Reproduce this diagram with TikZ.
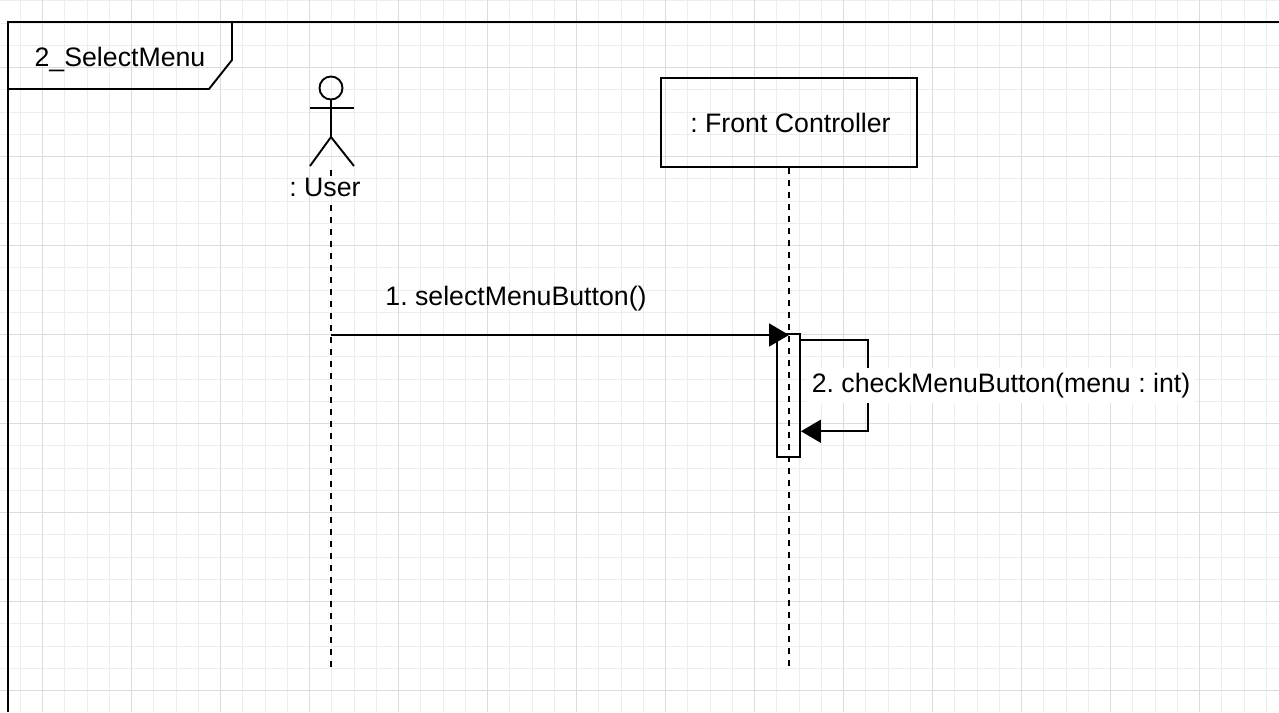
\documentclass[tikz,border=0pt]{standalone}
\usepackage{fontspec}
\setmainfont{Liberation Sans}
\usepackage{xcolor}
\usepackage{tikz}
\usetikzlibrary{positioning,arrows.meta,calc}
\definecolor{ink}{HTML}{000000}
\definecolor{gridmajor}{HTML}{DCDCDC}
\definecolor{gridminor}{HTML}{EDEDED}
\frenchspacing

\begin{document}
\begin{tikzpicture}[x=1pt, y=-1pt,
    every node/.style={font=\fontsize{26.7}{32}\selectfont, text=ink},
    outline/.style={draw=ink, line width=1.9pt},
    lifeline/.style={draw=ink, line width=2.2pt, dash pattern=on 6pt off 6pt},
    msg/.style={draw=ink, line width=1.9pt, -{Triangle[length=20pt,width=23pt]}},
    lifebox/.style={outline, minimum width=256pt, minimum height=89pt, inner sep=0pt},
    actbox/.style={outline, minimum width=23pt, minimum height=123pt, inner sep=0pt}]
  \useasboundingbox (0,0) rectangle (1279,712);
  \fill[white] (0,0) rectangle (1279,712);
  \foreach \k in {-1,...,55}
    \draw[gridminor, line width=1pt] ({42.5+22.25*\k},0) -- ({42.5+22.25*\k},712);
  \foreach \k in {-3,...,28}
    \draw[gridminor, line width=1pt] (0,{67.5+22.25*\k}) -- (1279,{67.5+22.25*\k});
  \foreach \k in {0,...,13}
    \draw[gridmajor, line width=1pt] ({42.5+89*\k},0) -- ({42.5+89*\k},712);
  \foreach \k in {0,...,7}
    \draw[gridmajor, line width=1pt] (0,{67.5+89*\k}) -- (1279,{67.5+89*\k});

  % frame and its title tab
  \draw[outline, line width=2.2pt] (8,712) -- (8,22) -- (1279,22);
  \draw[outline] (232,22) -- (232,60) -- (209,89) -- (8,89);
  \node[anchor=base] (title) at (120,66) {2\_SelectMenu};

  % actor
  \coordinate (head) at (331,88);
  \draw[outline] (head) circle (11.5);
  \draw[outline] (331,99.5) -- (331,137) -- (310,166);
  \draw[outline] (331,137) -- (354,166);
  \draw[outline] (310,108) -- (354,108);
  \node[anchor=base] (user) at (325,196.5) {: User};
  \coordinate (userend) at (331,668);
  \draw[lifeline] (331,170) -- (331,178);
  \draw[lifeline] (331,205) -- (userend);

  % front controller
  \node[lifebox] (fc) at (789,122.5) {};
  \node[anchor=base] (fclabel) at (790.5,132.5) {: Front Controller};
  \coordinate (fcend) at (789,668);
  \draw[lifeline] (fc.south) -- (fcend);
  \node[actbox] (act) at (788.5,395.8) {};

  % messages
  \coordinate (m1) at (331,335);
  \draw[msg] (m1) -- (fc |- m1);
  \node[anchor=base] (m1label) at (516,305) {1. selectMenuButton()};
  \draw[msg] ([yshift=-7pt]act.north east) -- ++(67,0) |- ([yshift=27pt]act.south east);
  \node[anchor=base, fill=white, inner sep=5pt] (m2label) at (1001,392.7) {2. checkMenuButton(menu : int)};
\end{tikzpicture}
\end{document}
